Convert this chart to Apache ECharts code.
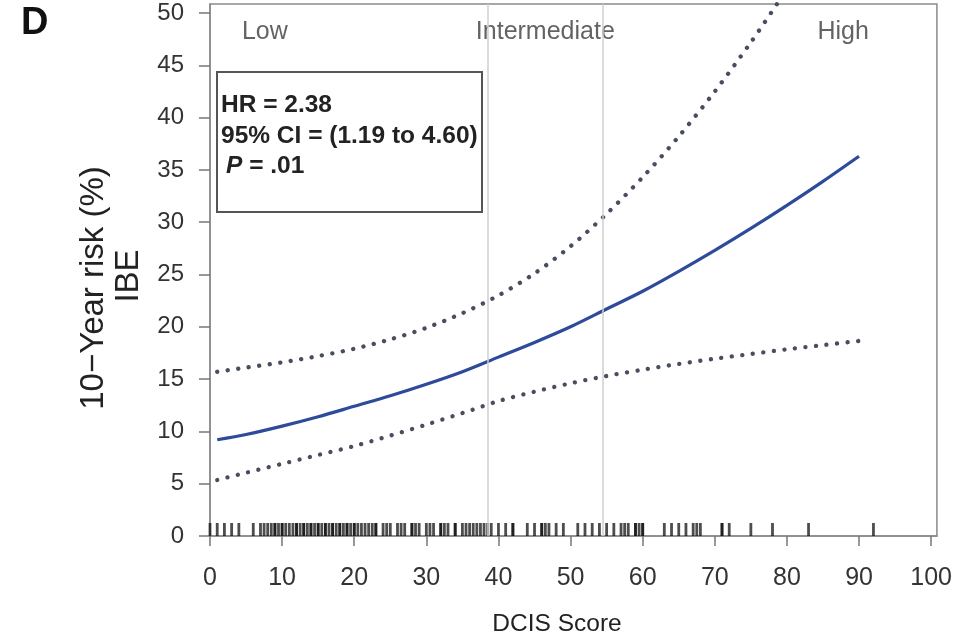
<!DOCTYPE html>
<html>
<head>
<meta charset="utf-8">
<script src="https://cdn.jsdelivr.net/npm/echarts@6.0.0/dist/echarts.min.js"></script>
<style>
  html, body { margin: 0; padding: 0; background: #fff; }
  #chart { width: 955px; height: 641px; }
</style>
</head>
<body>
<div id="chart"></div>
<script>
// DCIS Score grid where the fitted curve and its confidence bounds are evaluated
const scoreGrid = [1, 5, 10, 15, 20, 25, 30, 35, 40, 45, 50, 55, 60, 65, 70, 75, 80, 85, 90];
// 10-year IBE risk (%) — estimate
const riskEstimate = [9.2, 9.7, 10.5, 11.4, 12.4, 13.4, 14.5, 15.7, 17.1, 18.5, 20.0, 21.7, 23.4, 25.3, 27.3, 29.4, 31.6, 33.9, 36.3];
// upper 95% bound (runs past the top of the frame beyond ~78)
const riskUpper = [15.7, 16.1, 16.6, 17.2, 17.9, 18.8, 19.9, 21.3, 23.0, 25.1, 27.7, 30.8, 34.3, 38.2, 42.5, 47.2, 52.3, 57.8, 63.7];
// lower 95% bound
const riskLower = [5.35, 6.05, 6.9, 7.75, 8.6, 9.6, 10.65, 11.75, 12.9, 13.8, 14.6, 15.3, 15.9, 16.45, 16.95, 17.4, 17.85, 18.25, 18.65];

// individual patient scores shown as a rug along the x axis
const rugScores = [0, 1, 2, 3, 4, 6, 7, 7.5, 8, 8.5, 9, 9, 9.5, 10, 10, 10.5, 11, 11.5, 12, 12, 12.5,
  13, 13, 13.5, 14, 14, 14.5, 15, 15, 15.5, 16, 16, 16.5, 17, 17, 17.5, 18, 18, 18.5, 19, 19, 19.5,
  20, 20, 20.5, 21, 21.5, 22, 22.5, 23, 23, 24, 24.5, 25, 26, 26.5, 27, 28, 28, 28.5, 29, 30, 30.5,
  31, 32, 32, 32.5, 33, 34, 34, 35, 35.5, 36, 36.5, 37, 37.5, 38, 38.5, 39, 40, 41, 42, 42, 44, 45,
  46, 46, 46.5, 47, 48, 49, 51, 52, 53, 54, 55, 56, 57, 57.5, 58, 59, 59, 59.5, 60, 60, 63, 64, 65,
  66, 67, 67.5, 68, 71, 71, 72, 75, 78, 83, 92];

// risk group cut points and group labels
const groupCuts = [38.5, 54.5];
const groupNames = ['Low', 'Intermediate', 'High'];
const groupLabelX = [7.6, 46.5, 87.8];
const groupLabelY = 48.2;

// axis ticks
const xTicks = [0, 10, 20, 30, 40, 50, 60, 70, 80, 90, 100];
const yTicks = [0, 5, 10, 15, 20, 25, 30, 35, 40, 45, 50];

const FONT = '"Liberation Sans", Arial, sans-serif';
const zip = (xs, ys) => xs.map((x, i) => [x, ys[i]]);

const chart = echarts.init(document.getElementById('chart'), null, { renderer: 'canvas' });

chart.setOption({
  animation: false,
  backgroundColor: '#ffffff',
  grid: {
    left: 210, right: 18, top: 4, bottom: 105,
    show: true, borderColor: '#8a8a8a', borderWidth: 1.5, backgroundColor: 'transparent'
  },
  xAxis: {
    type: 'value', min: 0, max: 100.8,
    splitLine: { show: false },
    axisLine: { show: true, onZero: false, lineStyle: { color: '#8a8a8a', width: 1.5 } },
    axisTick: { show: true, customValues: xTicks, length: 10, lineStyle: { color: '#777', width: 1.5 } },
    axisLabel: { customValues: xTicks, fontSize: 25, color: '#333', margin: 30, fontFamily: FONT }
  },
  yAxis: {
    type: 'value', min: 0, max: 50.86,
    splitLine: { show: false },
    axisLine: { show: true, onZero: false, lineStyle: { color: '#8a8a8a', width: 1.5 } },
    axisTick: { show: true, customValues: yTicks, length: 11, lineStyle: { color: '#777', width: 1.5 } },
    axisLabel: { customValues: yTicks, fontSize: 24, color: '#333', margin: 26, fontFamily: FONT }
  },
  series: [
    {
      name: 'group cuts', type: 'line', data: [], silent: true,
      markLine: {
        silent: true, symbol: 'none', label: { show: false },
        lineStyle: { color: '#cfcfcf', width: 1.5, type: 'solid' },
        data: groupCuts.map(v => ({ xAxis: v }))
      }
    },
    {
      name: 'group labels', type: 'scatter', silent: true, symbolSize: 1,
      itemStyle: { color: 'transparent' },
      data: groupNames.map((n, i) => [groupLabelX[i], groupLabelY, n]),
      label: {
        show: true, position: 'inside', formatter: p => p.data[2],
        fontSize: 25, color: '#3c3c3c', fontFamily: FONT
      }
    },
    {
      name: 'rug', type: 'scatter', silent: true, clip: false,
      symbol: 'rect', symbolSize: [2.8, 13], symbolOffset: [0, -6.5],
      itemStyle: { color: '#111', opacity: 0.75 },
      data: rugScores.map(s => [s, 0])
    },
    {
      name: 'upper', type: 'line', smooth: 0.3, showSymbol: false, clip: true,
      lineStyle: { color: '#484e60', width: 4.3, type: [0.1, 10.5], cap: 'round' },
      data: zip(scoreGrid, riskUpper)
    },
    {
      name: 'lower', type: 'line', smooth: 0.3, showSymbol: false, clip: true,
      lineStyle: { color: '#484e60', width: 4.3, type: [0.1, 10.5], cap: 'round' },
      data: zip(scoreGrid, riskLower)
    },
    {
      name: 'estimate', type: 'line', smooth: 0.3, showSymbol: false, clip: true,
      lineStyle: { color: '#2e4b9b', width: 3.2 },
      data: zip(scoreGrid, riskEstimate)
    }
  ],
  graphic: [
    {
      type: 'text', left: 21, top: 5,
      style: { text: 'D', font: 'bold 38px ' + FONT, fill: '#111' }
    },
    {
      type: 'text', x: 94, y: 288, rotation: Math.PI / 2,
      style: { text: '10\u2212Year risk (%)', font: '33px ' + FONT, fill: '#222', align: 'center', verticalAlign: 'middle' }
    },
    {
      type: 'text', x: 129, y: 276, rotation: Math.PI / 2,
      style: { text: 'IBE', font: '33px ' + FONT, fill: '#222', align: 'center', verticalAlign: 'middle' }
    },
    {
      type: 'text', x: 557, y: 624,
      style: { text: 'DCIS Score', font: '24.5px ' + FONT, fill: '#222', align: 'center', verticalAlign: 'middle' }
    },
    {
      type: 'group', left: 216, top: 71,
      children: [
        {
          type: 'rect', shape: { x: 0, y: 0, width: 265, height: 140 },
          style: { fill: '#fff', stroke: '#555', lineWidth: 2 }
        },
        {
          type: 'text', x: 4, y: 33,
          style: { text: 'HR = 2.38', font: 'bold 24.5px ' + FONT, fill: '#222', verticalAlign: 'middle' }
        },
        {
          type: 'text', x: 4, y: 64,
          style: { text: '95% CI = (1.19 to 4.60)', font: 'bold 24.5px ' + FONT, fill: '#222', verticalAlign: 'middle' }
        },
        {
          type: 'text', x: 9, y: 94,
          style: {
            text: '{i|P} = .01', verticalAlign: 'middle', fill: '#222',
            font: 'bold 24.5px ' + FONT,
            rich: { i: { fontStyle: 'italic', fontWeight: 'bold', fontSize: 24.5, fontFamily: FONT, fill: '#222' } }
          }
        }
      ]
    }
  ]
});
</script>
</body>
</html>
